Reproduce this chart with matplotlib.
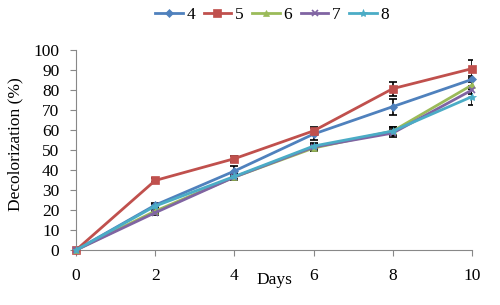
import matplotlib.pyplot as plt

plt.rcParams['font.family'] = ['Liberation Serif', 'DejaVu Serif']

days = [0, 2, 4, 6, 8, 10]
labels = ['4', '5', '6', '7', '8']
s4 = [0, 22.5, 39.5, 58, 71.7, 85.3]
s5 = [0, 34.8, 45.7, 59.6, 80.7, 90.7]
s6 = [0, 19.5, 36.5, 51, 59.5, 82.5]
s7 = [0, 18.7, 36.5, 51.5, 58.5, 80]
s8 = [0, 22, 36.8, 52, 59.5, 76.7]
e4 = [0, 1, 2.5, 3, 4, 1.5]
e5 = [0, 1, 1.5, 2, 3.5, 4.5]
e6 = [0, 1, 1.5, 1.5, 2, 2]
e7 = [0, 1, 1.5, 1.5, 2, 2]
e8 = [0, 1, 1.5, 1.5, 2, 4]

series = [s4, s5, s6, s7, s8]
errs = [e4, e5, e6, e7, e8]
colors = ['#4F81BD', '#C0504D', '#9BBB59', '#8064A2', '#4BACC6']
markers = ['D', 's', '^', 'x', '*']
msizes = [4, 6, 5, 5, 6]

fig = plt.figure(figsize=(5, 3.05), dpi=100)
ax = fig.add_axes([0.152, 0.18, 0.792, 0.656])

for y, e in zip(series, errs):
    ax.errorbar(days, y, yerr=e, fmt='none', ecolor='black', elinewidth=1.2,
                capsize=3, capthick=1.2, zorder=2)
for y, c, m, ms, lab in zip(series, colors, markers, msizes, labels):
    ax.plot(days, y, color=c, marker=m, markersize=ms, linewidth=2,
            markeredgewidth=1.2 if m == 'x' else 0.5, label=lab, zorder=3,
            clip_on=False)

ax.set_xlim(0, 10)
ax.set_ylim(0, 100)
ax.set_xticks(range(0, 11, 2))
ax.set_yticks(range(0, 101, 10))
for sp in ['top', 'right']:
    ax.spines[sp].set_visible(False)
for sp in ['left', 'bottom']:
    ax.spines[sp].set_color('#888888')
ax.tick_params(direction='out', length=4, color='#888888', labelsize=12.5)
ax.tick_params(axis='y', pad=8)
ax.tick_params(axis='x', pad=9)
ax.set_xlabel('Days', fontsize=12.5)
ax.set_ylabel('Decolorization (%)', fontsize=12.5)
ax.xaxis.set_label_coords(0.5, -0.11)
ax.yaxis.set_label_coords(-0.132, 0.53)

fig.legend(loc='center', bbox_to_anchor=(272 / 500, 0.951), ncol=5, frameon=False,
           fontsize=12.5, handlelength=1.6, columnspacing=0.5, handletextpad=0.2,
           borderaxespad=0)

fig.savefig('out.png', dpi=100)
